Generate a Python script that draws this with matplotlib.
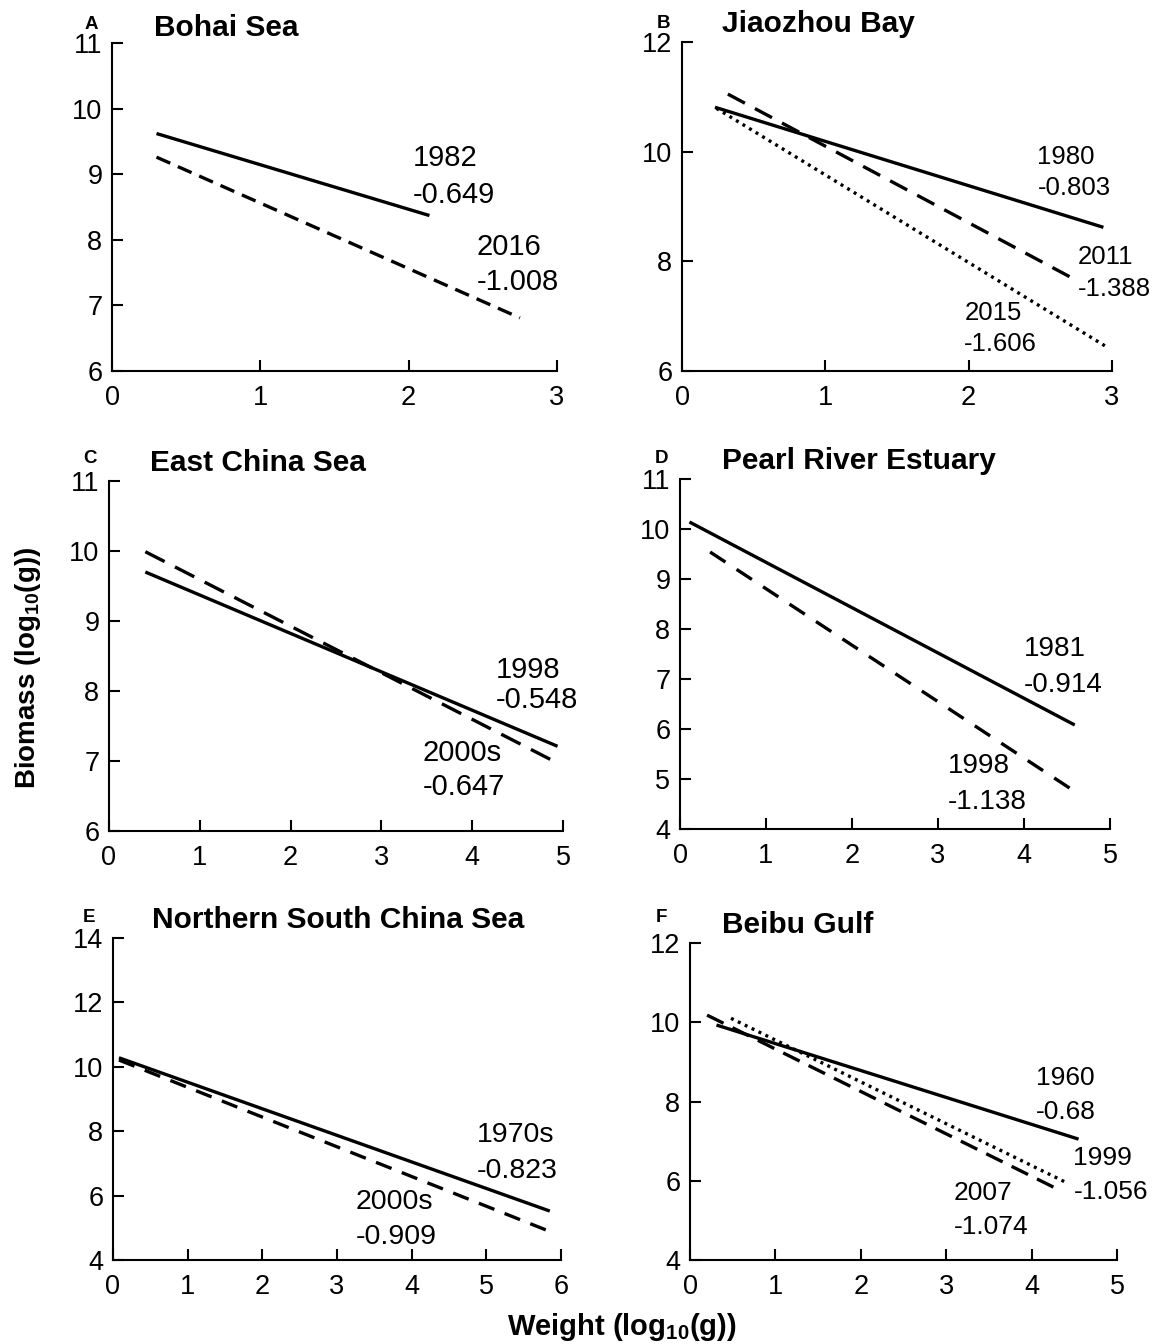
import matplotlib
matplotlib.use("Agg")
import matplotlib.pyplot as plt

plt.rcParams['font.family'] = ['Liberation Sans', 'DejaVu Sans']
plt.rcParams['mathtext.fontset'] = 'custom'
plt.rcParams['mathtext.rm'] = 'Liberation Sans:bold'
plt.rcParams['mathtext.bf'] = 'Liberation Sans:bold'

# panel info
letters = ['A', 'B', 'C', 'D', 'E', 'F']
titles = ['Bohai Sea', 'Jiaozhou Bay', 'East China Sea', 'Pearl River Estuary',
          'Northern South China Sea', 'Beibu Gulf']
xmax = [3, 3, 5, 5, 6, 5]
ylims = [(6, 11), (6, 12), (6, 11), (4, 11), (4, 14), (4, 12)]
ystep = [1, 2, 1, 1, 2, 2]

# A - Bohai Sea
a_years = ['1982', '2016']
a_slopes = ['-0.649', '-1.008']
a_x0 = [0.30, 0.30]
a_x1 = [2.14, 2.75]
a_y0 = [9.62, 9.26]
a_y1 = [8.37, 6.81]

# B - Jiaozhou Bay
b_years = ['1980', '2011', '2015']
b_slopes = ['-0.803', '-1.388', '-1.606']
b_x0 = [0.23, 0.32, 0.24]
b_x1 = [2.94, 2.74, 2.95]
b_y0 = [10.81, 11.05, 10.79]
b_y1 = [8.62, 7.67, 6.46]

# C - East China Sea
c_years = ['1998', '2000s']
c_slopes = ['-0.548', '-0.647']
c_x0 = [0.40, 0.40]
c_x1 = [4.94, 4.94]
c_y0 = [9.70, 9.99]
c_y1 = [7.21, 6.97]

# D - Pearl River Estuary
d_years = ['1981', '1998']
d_slopes = ['-0.914', '-1.138']
d_x0 = [0.11, 0.35]
d_x1 = [4.59, 4.60]
d_y0 = [10.14, 9.54]
d_y1 = [6.08, 4.74]

# E - Northern South China Sea
e_years = ['1970s', '2000s']
e_slopes = ['-0.823', '-0.909']
e_x0 = [0.08, 0.08]
e_x1 = [5.85, 5.90]
e_y0 = [10.28, 10.21]
e_y1 = [5.52, 4.84]

# F - Beibu Gulf
f_years = ['1960', '1999', '2007']
f_slopes = ['-0.68', '-1.056', '-1.074']
f_x0 = [0.31, 0.48, 0.20]
f_x1 = [4.55, 4.42, 4.33]
f_y0 = [9.93, 10.10, 10.18]
f_y1 = [7.05, 5.94, 5.76]

# label anchors (x, y of year line, y of slope line)
a_lab = [(2.03, 9.25, 8.68), (2.46, 7.89, 7.35)]
b_lab = [(2.48, 9.90, 9.33), (2.76, 8.07, 7.50), (1.97, 7.06, 6.49)]
c_lab = [(4.26, 8.30, 7.87), (3.45, 7.11, 6.63)]
d_lab = [(4.00, 7.60, 6.88), (3.11, 5.26, 4.54)]
e_lab = [(4.87, 7.88, 6.76), (3.25, 5.80, 4.71)]
f_lab = [(4.05, 8.59, 7.73), (4.49, 6.57, 5.71), (3.09, 5.69, 4.83)]

series = [
    (a_years, a_slopes, a_x0, a_x1, a_y0, a_y1, a_lab),
    (b_years, b_slopes, b_x0, b_x1, b_y0, b_y1, b_lab),
    (c_years, c_slopes, c_x0, c_x1, c_y0, c_y1, c_lab),
    (d_years, d_slopes, d_x0, d_x1, d_y0, d_y1, d_lab),
    (e_years, e_slopes, e_x0, e_x1, e_y0, e_y1, e_lab),
    (f_years, f_slopes, f_x0, f_x1, f_y0, f_y1, f_lab),
]

solid = '-'
dot = (0, (0.9, 1.4))
styles = [
    [solid, (0, (4.5, 2.5))],
    [solid, (0, (5.8, 3.4)), dot],
    [solid, (0, (6.5, 3.5))],
    [solid, (0, (5.5, 4))],
    [solid, (0, (5, 3.3))],
    [solid, dot, (0, (5.5, 3))],
]

# axes boxes in pixels: left, right, top, bottom
boxes = [(112, 557, 43, 371), (682, 1112, 42, 371),
         (109, 563, 481, 831), (680, 1110, 479, 829),
         (113, 561, 938, 1260), (690, 1117, 943, 1260)]
title_pos = [(154, 36), (722, 32), (150, 471), (722, 469), (152, 928), (722, 933)]
letter_pos = [(91, 29), (663, 28), (90, 463), (661, 463), (89, 922), (661, 922)]
ann_size = [21, 18.5, 21, 20, 20.5, 19]

W, H = 1155, 1344
fig = plt.figure(figsize=(W / 100, H / 100), dpi=100)

for i in range(6):
    l, r, t, b = boxes[i]
    ax = fig.add_axes([l / W, 1 - b / H, (r - l) / W, (b - t) / H])
    years, slopes, x0, x1, y0, y1, lab = series[i]
    for j in range(len(years)):
        ax.plot([x0[j], x1[j]], [y0[j], y1[j]], color='black', lw=2.4,
                linestyle=styles[i][j], solid_capstyle='butt', dash_capstyle='butt')
        lx, ly1, ly2 = lab[j]
        ax.text(lx, ly1, years[j], fontsize=ann_size[i], ha='left', va='center')
        ax.text(lx, ly2, slopes[j], fontsize=ann_size[i], ha='left', va='center')
    ax.set_xlim(0, xmax[i])
    ax.set_ylim(*ylims[i])
    ax.set_xticks(range(0, xmax[i] + 1))
    ax.set_yticks(range(ylims[i][0], ylims[i][1] + 1, ystep[i]))
    for s in ['top', 'right']:
        ax.spines[s].set_visible(False)
    for s in ['left', 'bottom']:
        ax.spines[s].set_linewidth(1.5)
    ax.tick_params(direction='in', length=8, width=1.5, labelsize=19.5)
    ax.tick_params(axis='x', pad=10)
    ax.tick_params(axis='y', pad=7)

    tx, ty = title_pos[i]
    fig.text(tx / W, 1 - ty / H, titles[i], fontsize=21.5, fontweight='bold',
             ha='left', va='baseline')
    lx, ly = letter_pos[i]
    fig.text(lx / W, 1 - ly / H, letters[i], fontsize=13.5, fontweight='bold',
             ha='center', va='baseline')

fig.text(28 / W, 1 - 668 / H, r'Biomass (log$_{\mathbf{10}}$(g))', rotation=90,
         fontsize=20, fontweight='bold', ha='center', va='center')
fig.text(622 / W, 1 - 1335 / H, r'Weight (log$_{\mathbf{10}}$(g))',
         fontsize=21, fontweight='bold', ha='center', va='baseline')

fig.savefig('out.png', dpi=100)
